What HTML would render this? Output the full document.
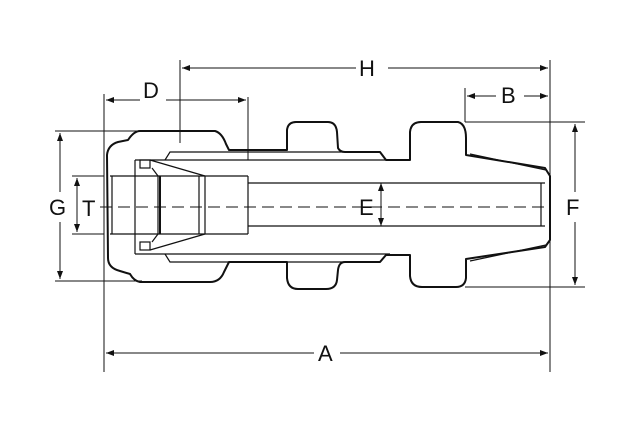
<!DOCTYPE html>
<html><head><style>body{margin:0;background:#fff}svg{display:block}text{font-family:"Liberation Sans",sans-serif;font-size:22px;fill:#111}</style></head><body>
<svg width="628" height="436" viewBox="0 0 628 436" xmlns="http://www.w3.org/2000/svg">
<defs><marker id="a" markerWidth="8" markerHeight="6" refX="8" refY="3" orient="auto-start-reverse"><path d="M0,0 L8,3 L0,6z" fill="#111"/></marker></defs>
<g stroke="#111" stroke-width="1" fill="none">
<!-- extension lines -->
<line x1="104" y1="94" x2="104" y2="372"/>
<line x1="550" y1="60" x2="550" y2="372"/>
<line x1="180" y1="60" x2="180" y2="143"/>
<line x1="248" y1="97" x2="248" y2="160"/>
<line x1="465" y1="88" x2="465" y2="122"/>
<line x1="55" y1="131" x2="142" y2="131"/>
<line x1="55" y1="281" x2="142" y2="281"/>
<line x1="72" y1="176" x2="104" y2="176"/>
<line x1="72" y1="234" x2="104" y2="234"/>
<line x1="465" y1="122" x2="585" y2="122"/>
<line x1="465" y1="287" x2="585" y2="287"/>
<!-- dimension lines -->
<line x1="182" y1="68" x2="356" y2="68" marker-start="url(#a)"/><line x1="388" y1="68" x2="548" y2="68" marker-end="url(#a)"/>
<line x1="106" y1="100" x2="140" y2="100" marker-start="url(#a)"/><line x1="166" y1="100" x2="246" y2="100" marker-end="url(#a)"/>
<line x1="467" y1="96" x2="496" y2="96" marker-start="url(#a)"/><line x1="524" y1="96" x2="548" y2="96" marker-end="url(#a)"/>
<line x1="106" y1="353" x2="314" y2="353" marker-start="url(#a)"/><line x1="340" y1="353" x2="548" y2="353" marker-end="url(#a)"/>
<line x1="60" y1="133" x2="60" y2="192" marker-start="url(#a)"/><line x1="60" y1="222" x2="60" y2="279" marker-end="url(#a)"/>
<line x1="77" y1="178" x2="77" y2="232" marker-start="url(#a)" marker-end="url(#a)"/>
<line x1="575" y1="124" x2="575" y2="192" marker-start="url(#a)"/><line x1="575" y1="222" x2="575" y2="285" marker-end="url(#a)"/>
<line x1="381" y1="183" x2="381" y2="226" marker-start="url(#a)" marker-end="url(#a)"/>
<!-- centerline -->
<line x1="100" y1="207" x2="548" y2="207" stroke-dasharray="12,6"/>
</g>
<g stroke="#111" stroke-width="2" fill="none" stroke-linejoin="round">
<!-- outer outline top -->
<path d="M140,131 L215,131 Q222,133 226,144 L229,150 L287,150 L287,130 Q288,122 296,122 L328,122 Q336,122 337,132 L338,148 Q340,152 345,152 L380,152 L386,160 L410,160 L410,132 Q411,122 421,122 L458,122 Q466,124 466,138 L466,155 L545,168 L550,176 L550,240 L545,247 L466,259 L466,278 Q465,287 456,287 L422,287 Q411,287 410,276 L410,255 L386,255 L380,262 L345,262 Q339,262 338,270 L337,280 Q336,289 326,289 L298,289 Q288,289 287,278 L287,262 L229,262 L224,272 Q220,282 210,282 L140,282 Q134,281 130,274 L120,271 Q108,268 108,258 L107,155 Q108,145 118,142 L128,140 Q134,131 140,131 Z"/>
</g>
<g stroke="#111" stroke-width="1.2" fill="none">
<!-- inner sleeve lines -->
<path d="M165,160 L170,152 L380,152"/>
<path d="M165,254 L170,262 L380,262"/>
<line x1="135" y1="160" x2="390" y2="160"/>
<line x1="135" y1="254" x2="390" y2="254"/>
<line x1="135" y1="160" x2="135" y2="254"/>
<!-- tube -->
<line x1="110" y1="176" x2="248" y2="176"/>
<line x1="110" y1="234" x2="248" y2="234"/>
<line x1="248" y1="176" x2="248" y2="234"/>
<line x1="112" y1="176" x2="112" y2="234"/>
<!-- bore -->
<line x1="248" y1="183" x2="545" y2="183"/>
<line x1="248" y1="226" x2="545" y2="226"/>
<line x1="541" y1="183" x2="541" y2="226"/>
<!-- ferrule -->
<rect x="140" y="160" width="10" height="8"/>
<rect x="140" y="242" width="10" height="8"/>
<path d="M150,160 L205,176 M150,250 L205,234"/>
<path d="M152,168 L158,176 L158,234 L152,242"/>
<line x1="199" y1="176" x2="199" y2="234"/>
<line x1="205" y1="176" x2="205" y2="234"/>
<line x1="160" y1="176" x2="160" y2="234" stroke-width="2"/>
<!-- taper inner lines -->
<line x1="470" y1="154" x2="546" y2="170"/>
<line x1="470" y1="261" x2="546" y2="245"/>
</g>
<g>
<text x="359" y="76">H</text>
<text x="143" y="98">D</text>
<text x="501" y="103">B</text>
<text x="318" y="361">A</text>
<text x="49" y="215">G</text>
<text x="82" y="216">T</text>
<text x="566" y="215">F</text>
<text x="359" y="215">E</text>
</g>
</svg>
</body></html>
